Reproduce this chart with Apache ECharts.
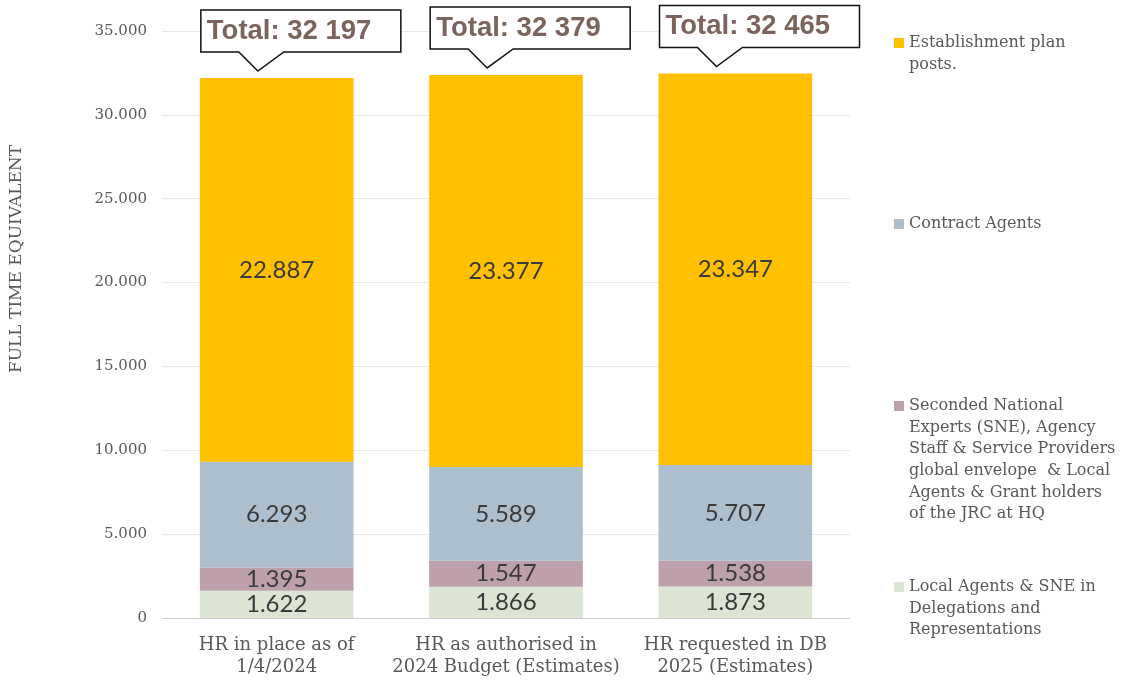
<!DOCTYPE html>
<html>
<head>
<meta charset="utf-8">
<script src="https://cdn.jsdelivr.net/npm/echarts@6/dist/echarts.min.js"></script>
<style>html,body{margin:0;padding:0;background:#fff}#c{width:1121px;height:681px}</style>
</head>
<body>
<div id="c"></div>
<script>
const categories = ['HR in place as of\n1/4/2024', 'HR as authorised in\n2024 Budget (Estimates)', 'HR requested in DB\n2025 (Estimates)'];
const seriesNames = ['Local Agents & SNE in Delegations and Representations',
  'Seconded National Experts (SNE), Agency Staff & Service Providers global envelope  & Local Agents & Grant holders of the JRC at HQ',
  'Contract Agents',
  'Establishment plan posts.'];
const legendLabels = ['Local Agents & SNE in\nDelegations and\nRepresentations',
  'Seconded National\nExperts (SNE), Agency\nStaff & Service Providers\nglobal envelope  & Local\nAgents & Grant holders\nof the JRC at HQ',
  'Contract Agents',
  'Establishment plan\nposts.'];
const localAgents = [1622, 1866, 1873];
const seconded = [1395, 1547, 1538];
const contractAgents = [6293, 5589, 5707];
const establishment = [22887, 23377, 23347];
const yTicks = [0, 5000, 10000, 15000, 20000, 25000, 30000, 35000];
const colors = ['#DCE4D4', '#BEA0AC', '#ADBFCC', '#FFC000'];

const values = [localAgents, seconded, contractAgents, establishment];
const totals = categories.map((c, i) => values.reduce((s, a) => s + a[i], 0));

const dotFmt = v => String(v).replace(/\B(?=(\d{3})+(?!\d))/g, '.');
const spaceFmt = v => String(v).replace(/\B(?=(\d{3})+(?!\d))/g, ' ');
const SERIF = 'DejaVu Serif';
const LH = 21.6;

const chart = echarts.init(document.getElementById('c'));
const barSeries = values.map((arr, k) => ({
  name: seriesNames[k], type: 'bar', stack: 'hr', data: arr,
  barCategoryGap: '33%',
  itemStyle: { color: colors[k] },
  label: { show: true, position: 'inside', formatter: p => dotFmt(p.value),
    fontFamily: 'Lato', fontSize: 24, color: '#3a3a3a' }
}));

const firstLineY = [587, 406, 224, 43];
const legends = seriesNames.map((n, k) => {
  const lines = legendLabels[k].split('\n').length;
  return {
    data: [n], left: 894, top: firstLineY[k] - (2 * lines - 1) * LH / 2,
    orient: 'vertical', padding: 0, itemWidth: 10, itemHeight: 10, itemGap: 0,
    icon: 'rect', selectedMode: false,
    formatter: () => '\n'.repeat(lines - 1) + legendLabels[k],
    textStyle: { fontFamily: SERIF, fontSize: 16, color: '#595959', lineHeight: LH }
  };
});

chart.setOption({
  animation: false,
  grid: { left: 162, right: 271, top: 31, bottom: 63 },
  legend: legends,
  xAxis: { type: 'category', data: categories,
    axisLine: { lineStyle: { color: '#d0d0d0', width: 1 } }, axisTick: { show: false },
    axisLabel: { fontFamily: SERIF, fontSize: 18, color: '#595959', lineHeight: 22, margin: 16, interval: 0 } },
  yAxis: { type: 'value', min: yTicks[0], max: yTicks[yTicks.length - 1], interval: 5000,
    axisLine: { show: false }, axisTick: { show: false },
    splitLine: { lineStyle: { color: '#e8e8e8' } },
    axisLabel: { fontFamily: SERIF, fontSize: 15, color: '#595959', margin: 15, formatter: v => dotFmt(v) } },
  graphic: [{ type: 'text', x: 17, y: 259, rotation: Math.PI / 2,
    style: { text: 'FULL TIME EQUIVALENT', fontFamily: SERIF, fontSize: 17, fill: '#595959',
      align: 'center', verticalAlign: 'middle' } }],
  series: barSeries.concat([{
    type: 'custom', clip: false, z: 10,
    data: totals.map((t, i) => [i, t]),
    renderItem: (params, api) => {
      const c = api.coord([api.value(0), api.value(1)]);
      const half = api.size([1, 0])[0] * 0.335;
      const x0 = c[0] - half + 1, yt = c[1];
      const t = yt - 68, b = yt - 26, v = yt - 7;
      return { type: 'group', children: [
        { type: 'polygon', shape: { points: [[x0, t], [x0 + 200, t], [x0 + 200, b], [x0 + 83, b], [x0 + 57, v], [x0 + 38, b], [x0, b]] },
          style: { fill: '#fff', stroke: '#111', lineWidth: 1.5 } },
        { type: 'text', x: x0 + 6, y: (t + b) / 2,
          style: { text: 'Total: ' + spaceFmt(api.value(1)), fontFamily: 'Liberation Sans', fontWeight: 'bold',
            fontSize: 27.5, fill: '#7A645C', verticalAlign: 'middle', align: 'left' } }
      ] };
    }
  }])
});
</script>
</body>
</html>
